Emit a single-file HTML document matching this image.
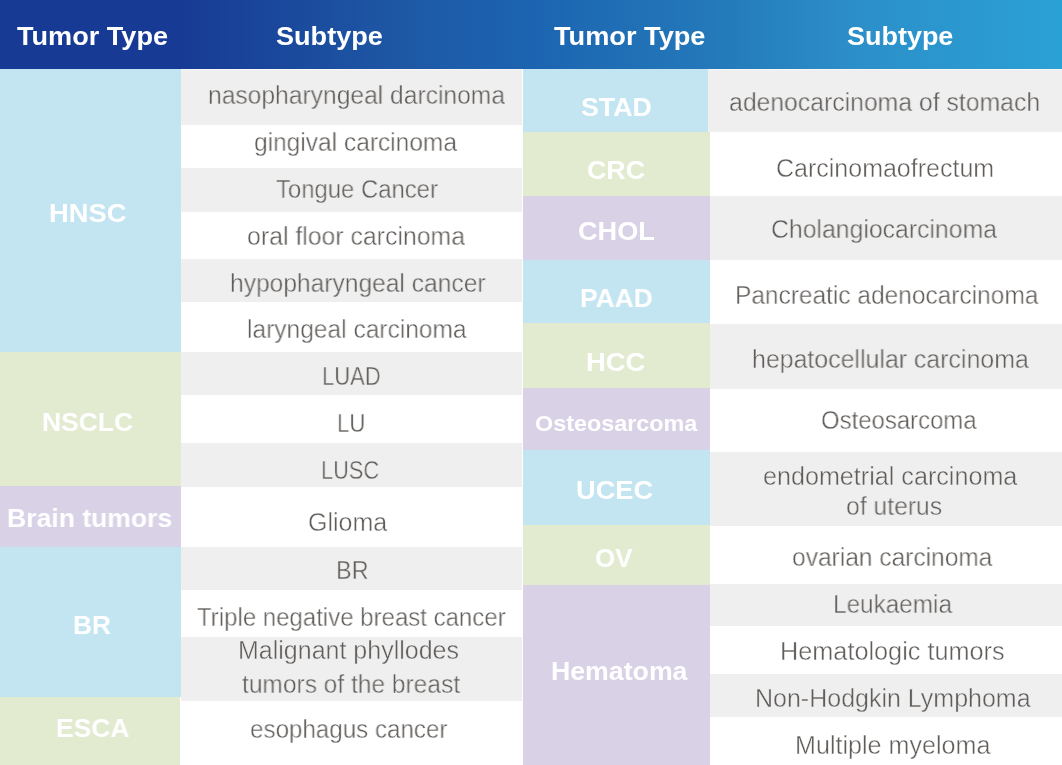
<!DOCTYPE html>
<html><head><meta charset="utf-8"><title>Tumor types</title>
<style>
html,body{margin:0;padding:0;}
body{width:1062px;height:765px;position:relative;overflow:hidden;background:#fff;
 font-family:"Liberation Sans",sans-serif;}
.r{position:absolute;}
.t{position:absolute;white-space:nowrap;line-height:1;transform-origin:0 0;will-change:transform;}
.s{color:#605d5a;}
.l{color:#fff;font-weight:bold;}
.h{color:#fff;font-weight:bold;}
#hdr{position:absolute;left:0;top:0;width:1062px;height:69px;
 background:linear-gradient(90deg,#173B94 0%,#173B94 17%,#1E58A5 38%,#1C64B1 50%,#247ABA 68%,#2C8EC8 80%,#2AA1D5 100%);}
</style></head><body>

<div class="r" style="left:181px;top:68px;width:341px;height:57px;background:#EFEFEF"></div>
<div class="r" style="left:181px;top:125px;width:341px;height:43px;background:#FFFFFF"></div>
<div class="r" style="left:181px;top:168px;width:341px;height:44px;background:#EFEFEF"></div>
<div class="r" style="left:181px;top:212px;width:341px;height:47px;background:#FFFFFF"></div>
<div class="r" style="left:181px;top:259px;width:341px;height:43px;background:#EFEFEF"></div>
<div class="r" style="left:181px;top:302px;width:341px;height:50px;background:#FFFFFF"></div>
<div class="r" style="left:181px;top:352px;width:341px;height:43px;background:#EFEFEF"></div>
<div class="r" style="left:181px;top:395px;width:341px;height:48px;background:#FFFFFF"></div>
<div class="r" style="left:181px;top:443px;width:341px;height:44px;background:#EFEFEF"></div>
<div class="r" style="left:181px;top:487px;width:341px;height:60px;background:#FFFFFF"></div>
<div class="r" style="left:181px;top:547px;width:341px;height:43px;background:#EFEFEF"></div>
<div class="r" style="left:181px;top:590px;width:341px;height:47px;background:#FFFFFF"></div>
<div class="r" style="left:181px;top:637px;width:341px;height:64px;background:#EFEFEF"></div>
<div class="r" style="left:181px;top:701px;width:341px;height:64px;background:#FFFFFF"></div>
<div class="r" style="left:710px;top:68px;width:352px;height:64px;background:#EFEFEF"></div>
<div class="r" style="left:710px;top:132px;width:352px;height:64px;background:#FFFFFF"></div>
<div class="r" style="left:710px;top:196px;width:352px;height:64px;background:#EFEFEF"></div>
<div class="r" style="left:710px;top:260px;width:352px;height:64px;background:#FFFFFF"></div>
<div class="r" style="left:710px;top:324px;width:352px;height:65px;background:#EFEFEF"></div>
<div class="r" style="left:710px;top:389px;width:352px;height:63px;background:#FFFFFF"></div>
<div class="r" style="left:710px;top:452px;width:352px;height:74px;background:#EFEFEF"></div>
<div class="r" style="left:710px;top:526px;width:352px;height:58px;background:#FFFFFF"></div>
<div class="r" style="left:710px;top:584px;width:352px;height:42px;background:#EFEFEF"></div>
<div class="r" style="left:710px;top:626px;width:352px;height:48px;background:#FFFFFF"></div>
<div class="r" style="left:710px;top:674px;width:352px;height:43px;background:#EFEFEF"></div>
<div class="r" style="left:710px;top:717px;width:352px;height:48px;background:#FFFFFF"></div>
<div class="r" style="left:0px;top:68px;width:181px;height:284px;background:#C3E4F1"></div>
<div class="r" style="left:0px;top:352px;width:181px;height:134px;background:#E2EAD0"></div>
<div class="r" style="left:0px;top:486px;width:181px;height:61px;background:#D9D2E7"></div>
<div class="r" style="left:0px;top:547px;width:181px;height:150px;background:#C3E4F1"></div>
<div class="r" style="left:0px;top:697px;width:180px;height:68px;background:#E2EAD0"></div>
<div class="r" style="left:523px;top:68px;width:187px;height:64px;background:#C3E4F1"></div>
<div class="r" style="left:523px;top:132px;width:187px;height:64px;background:#E2EAD0"></div>
<div class="r" style="left:523px;top:196px;width:187px;height:64px;background:#D9D2E7"></div>
<div class="r" style="left:523px;top:260px;width:187px;height:63px;background:#C3E4F1"></div>
<div class="r" style="left:523px;top:323px;width:187px;height:65px;background:#E2EAD0"></div>
<div class="r" style="left:523px;top:388px;width:187px;height:62px;background:#D9D2E7"></div>
<div class="r" style="left:523px;top:450px;width:187px;height:75px;background:#C3E4F1"></div>
<div class="r" style="left:523px;top:525px;width:187px;height:60px;background:#E2EAD0"></div>
<div class="r" style="left:523px;top:585px;width:187px;height:180px;background:#D9D2E7"></div>
<div class="r" style="left:708px;top:68px;width:2px;height:64px;background:#EFEFEF"></div>
<div id="hdr"></div>
<div class="r" style="left:181px;top:69px;width:341px;height:1px;background:rgba(255,255,255,.45)"></div>
<div class="r" style="left:708px;top:69px;width:354px;height:1px;background:rgba(255,255,255,.45)"></div>
<div class="t s" style="left:207.92px;top:82.54px;font-size:25px;transform:scaleX(0.9848);-webkit-text-stroke:0.40px #EFEFEF;">nasopharyngeal darcinoma</div>
<div class="t s" style="left:254.32px;top:130.24px;font-size:25px;transform:scaleX(0.9799);-webkit-text-stroke:0.40px #FFFFFF;">gingival carcinoma</div>
<div class="t s" style="left:276.20px;top:177.34px;font-size:25px;transform:scaleX(0.9549);-webkit-text-stroke:0.40px #EFEFEF;">Tongue Cancer</div>
<div class="t s" style="left:247.21px;top:224.04px;font-size:25px;transform:scaleX(0.9930);-webkit-text-stroke:0.40px #FFFFFF;">oral floor carcinoma</div>
<div class="t s" style="left:229.52px;top:270.64px;font-size:25px;transform:scaleX(0.9831);-webkit-text-stroke:0.40px #EFEFEF;">hypopharyngeal cancer</div>
<div class="t s" style="left:246.62px;top:317.34px;font-size:25px;transform:scaleX(0.9815);-webkit-text-stroke:0.40px #FFFFFF;">laryngeal carcinoma</div>
<div class="t s" style="left:321.94px;top:364.04px;font-size:25px;transform:scaleX(0.8785);-webkit-text-stroke:0.40px #EFEFEF;">LUAD</div>
<div class="t s" style="left:336.64px;top:411.44px;font-size:25px;transform:scaleX(0.8822);-webkit-text-stroke:0.40px #FFFFFF;">LU</div>
<div class="t s" style="left:321.46px;top:458.14px;font-size:25px;transform:scaleX(0.8695);-webkit-text-stroke:0.40px #EFEFEF;">LUSC</div>
<div class="t s" style="left:307.80px;top:510.14px;font-size:25px;transform:scaleX(0.9964);-webkit-text-stroke:0.40px #FFFFFF;">Glioma</div>
<div class="t s" style="left:335.52px;top:557.84px;font-size:25px;transform:scaleX(0.9377);-webkit-text-stroke:0.40px #EFEFEF;">BR</div>
<div class="t s" style="left:197.30px;top:604.64px;font-size:25px;transform:scaleX(0.9600);-webkit-text-stroke:0.40px #FFFFFF;">Triple negative breast cancer</div>
<div class="t s" style="left:237.50px;top:638.24px;font-size:25px;transform:scaleX(0.9983);-webkit-text-stroke:0.40px #EFEFEF;">Malignant phyllodes</div>
<div class="t s" style="left:242.40px;top:672.04px;font-size:25px;transform:scaleX(0.9807);-webkit-text-stroke:0.40px #EFEFEF;">tumors of the breast</div>
<div class="t s" style="left:249.83px;top:717.44px;font-size:25px;transform:scaleX(0.9666);-webkit-text-stroke:0.40px #FFFFFF;">esophagus cancer</div>
<div class="t s" style="left:729.21px;top:89.74px;font-size:25px;transform:scaleX(0.9905);-webkit-text-stroke:0.40px #EFEFEF;">adenocarcinoma of stomach</div>
<div class="t s" style="left:775.80px;top:156.14px;font-size:25px;transform:scaleX(0.9991);-webkit-text-stroke:0.40px #FFFFFF;">Carcinomaofrectum</div>
<div class="t s" style="left:770.81px;top:217.34px;font-size:25px;transform:scaleX(0.9916);-webkit-text-stroke:0.40px #EFEFEF;">Cholangiocarcinoma</div>
<div class="t s" style="left:734.94px;top:283.14px;font-size:25px;transform:scaleX(0.9789);-webkit-text-stroke:0.40px #FFFFFF;">Pancreatic adenocarcinoma</div>
<div class="t s" style="left:751.50px;top:347.04px;font-size:25px;transform:scaleX(0.9959);-webkit-text-stroke:0.40px #EFEFEF;">hepatocellular carcinoma</div>
<div class="t s" style="left:820.64px;top:407.84px;font-size:25px;transform:scaleX(0.9570);-webkit-text-stroke:0.40px #FFFFFF;">Osteosarcoma</div>
<div class="t s" style="left:763.09px;top:464.34px;font-size:25px;transform:scaleX(1.0056);-webkit-text-stroke:0.40px #EFEFEF;">endometrial carcinoma</div>
<div class="t s" style="left:845.61px;top:493.64px;font-size:25px;transform:scaleX(0.9887);-webkit-text-stroke:0.40px #EFEFEF;">of uterus</div>
<div class="t s" style="left:792.42px;top:545.14px;font-size:25px;transform:scaleX(0.9810);-webkit-text-stroke:0.40px #FFFFFF;">ovarian carcinoma</div>
<div class="t s" style="left:832.95px;top:592.44px;font-size:25px;transform:scaleX(0.9726);-webkit-text-stroke:0.40px #EFEFEF;">Leukaemia</div>
<div class="t s" style="left:780.38px;top:638.94px;font-size:25px;transform:scaleX(1.0105);-webkit-text-stroke:0.40px #FFFFFF;">Hematologic tumors</div>
<div class="t s" style="left:754.80px;top:686.14px;font-size:25px;transform:scaleX(0.9986);-webkit-text-stroke:0.40px #EFEFEF;">Non-Hodgkin Lymphoma</div>
<div class="t s" style="left:794.69px;top:732.64px;font-size:25px;transform:scaleX(1.0047);-webkit-text-stroke:0.40px #FFFFFF;">Multiple myeloma</div>
<div class="t l" style="left:48.78px;top:200.40px;font-size:26.7px;transform:scaleX(1.0236);">HNSC</div>
<div class="t l" style="left:41.81px;top:408.90px;font-size:26.7px;transform:scaleX(0.9906);">NSCLC</div>
<div class="t l" style="left:7.41px;top:505.10px;font-size:26.7px;transform:scaleX(0.9949);">Brain tumors</div>
<div class="t l" style="left:73.12px;top:611.80px;font-size:26.7px;transform:scaleX(0.9846);">BR</div>
<div class="t l" style="left:55.81px;top:715.00px;font-size:26.7px;transform:scaleX(0.9921);">ESCA</div>
<div class="t l" style="left:581.20px;top:93.80px;font-size:26.7px;transform:scaleX(1.0029);">STAD</div>
<div class="t l" style="left:587.00px;top:156.80px;font-size:26.7px;transform:scaleX(1.0045);">CRC</div>
<div class="t l" style="left:577.68px;top:217.80px;font-size:26.7px;transform:scaleX(1.0174);">CHOL</div>
<div class="t l" style="left:579.71px;top:284.80px;font-size:26.7px;transform:scaleX(0.9894);">PAAD</div>
<div class="t l" style="left:586.47px;top:348.80px;font-size:26.7px;transform:scaleX(1.0257);">HCC</div>
<div class="t l" style="left:535.30px;top:412.82px;font-size:21.6px;transform:scaleX(1.0820);">Osteosarcoma</div>
<div class="t l" style="left:575.98px;top:477.10px;font-size:26.7px;transform:scaleX(1.0196);">UCEC</div>
<div class="t l" style="left:595.33px;top:544.80px;font-size:26.7px;transform:scaleX(0.9720);">OV</div>
<div class="t l" style="left:550.60px;top:658.30px;font-size:26.7px;transform:scaleX(1.0000);">Hematoma</div>
<div class="t h" style="left:17.30px;top:23.24px;font-size:26.3px;transform:scaleX(1.0304);">Tumor Type</div>
<div class="t h" style="left:276.30px;top:22.94px;font-size:26.3px;transform:scaleX(1.0300);">Subtype</div>
<div class="t h" style="left:554.30px;top:22.94px;font-size:26.3px;transform:scaleX(1.0332);">Tumor Type</div>
<div class="t h" style="left:847.40px;top:22.94px;font-size:26.3px;transform:scaleX(1.0251);">Subtype</div>
</body></html>
